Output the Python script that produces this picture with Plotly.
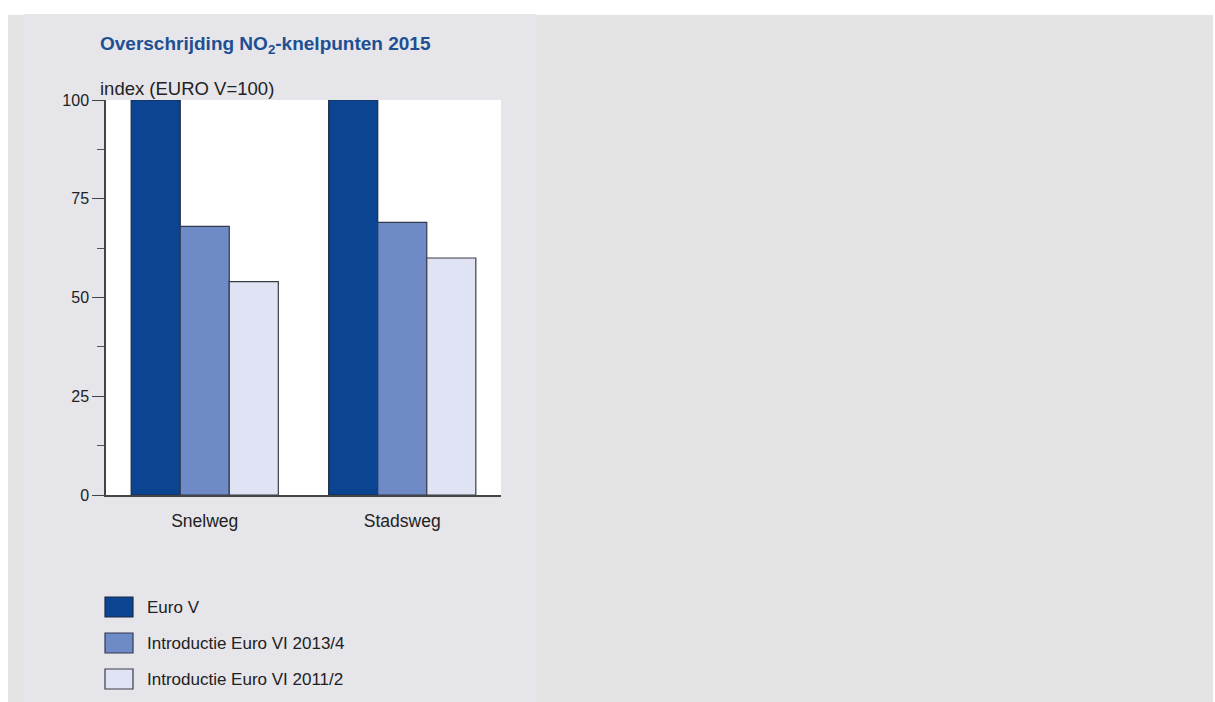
import plotly.graph_objects as go

# ---- data ----
categories = ["Snelweg", "Stadsweg"]
series_names = ["Euro V", "Introductie Euro VI 2013/4", "Introductie Euro VI 2011/2"]
euro_v = [100, 100]
euro_vi_2013 = [68, 69]
euro_vi_2011 = [54, 60]
series_values = [euro_v, euro_vi_2013, euro_vi_2011]
y_tick_vals = [0, 25, 50, 75, 100]
y_tick_text = ["0", "25", "50", "75", "100"]

colors = ["#0b4592", "#6f8bc7", "#dfe3f3"]
outline = ["#1e2a44", "#333a4d", "#3a3d48"]

W, H = 1215, 702
L, R, T, B = 106, 501, 100, 495  # plot area in pixels


def px(x):
    return (x - L) / (R - L)


def py(y):
    return (B - y) / (B - T)


FONT = "Liberation Sans, Arial, Helvetica, sans-serif"
TXT = "#222222"

fig = go.Figure()
for name, vals, c, oc in zip(series_names, series_values, colors, outline):
    fig.add_trace(go.Bar(
        x=categories, y=vals, name=name,
        marker=dict(color=c, line=dict(color=oc, width=1.2)),
        showlegend=False,
    ))

shapes = [
    dict(type="rect", xref="paper", yref="paper", x0=px(8), x1=px(1213), y0=py(15), y1=py(702),
         fillcolor="#e4e4e4", line=dict(width=0), layer="below"),
    dict(type="rect", xref="paper", yref="paper", x0=px(24), x1=px(536), y0=py(14), y1=py(702),
         fillcolor="#e6e5ea", line=dict(width=0), layer="below"),
    dict(type="rect", xref="paper", yref="paper", x0=0, x1=1, y0=0, y1=1,
         fillcolor="#ffffff", line=dict(width=0), layer="below"),
]

annotations = [
    dict(text="<b>Overschrijding NO<sub>2</sub>-knelpunten 2015</b>", xref="paper", yref="paper",
         x=px(98), y=py(45), xanchor="left", yanchor="middle", showarrow=False,
         font=dict(family=FONT, size=19, color="#1d4f92")),
    dict(text="index (EURO V=100)", xref="paper", yref="paper",
         x=px(98), y=py(88), xanchor="left", yanchor="middle", showarrow=False,
         font=dict(family=FONT, size=18.5, color=TXT)),
]

legend_rows = [607, 643, 679]
for name, c, oc, yc in zip(series_names, colors, outline, legend_rows):
    shapes.append(dict(type="rect", xref="paper", yref="paper",
                       x0=px(105), x1=px(133), y0=py(yc + 10), y1=py(yc - 10),
                       fillcolor=c, line=dict(color=oc, width=1.2), layer="above"))
    annotations.append(dict(text=name, xref="paper", yref="paper",
                            x=px(145), y=py(yc), xanchor="left", yanchor="middle",
                            showarrow=False, font=dict(family=FONT, size=17, color=TXT)))

fig.update_layout(
    width=W, height=H,
    margin=dict(l=L, r=W - R, t=T, b=H - B, pad=0),
    paper_bgcolor="#ffffff",
    plot_bgcolor="#ffffff",
    barmode="group",
    bargap=0.255,
    bargroupgap=0,
    shapes=shapes,
    annotations=annotations,
    font=dict(family=FONT, color=TXT),
    xaxis=dict(
        type="category", showgrid=False, showline=True, linecolor="#444444", linewidth=1.5,
        ticks="", tickfont=dict(family=FONT, size=17.5, color=TXT), ticklabelstandoff=9,
        range=[-0.5, 1.5], zeroline=False,
    ),
    yaxis=dict(
        range=[0, 100], showgrid=False, zeroline=False, showline=True,
        linecolor="#444444", linewidth=1.5,
        tickvals=y_tick_vals, ticktext=y_tick_text,
        ticks="outside", ticklen=12, tickwidth=1.2, tickcolor="#444444",
        tickfont=dict(family=FONT, size=16, color=TXT),
        minor=dict(dtick=12.5, tick0=0, ticks="outside", ticklen=7, tickwidth=1, tickcolor="#555555"),
    ),
)

fig.write_html("out.html")
